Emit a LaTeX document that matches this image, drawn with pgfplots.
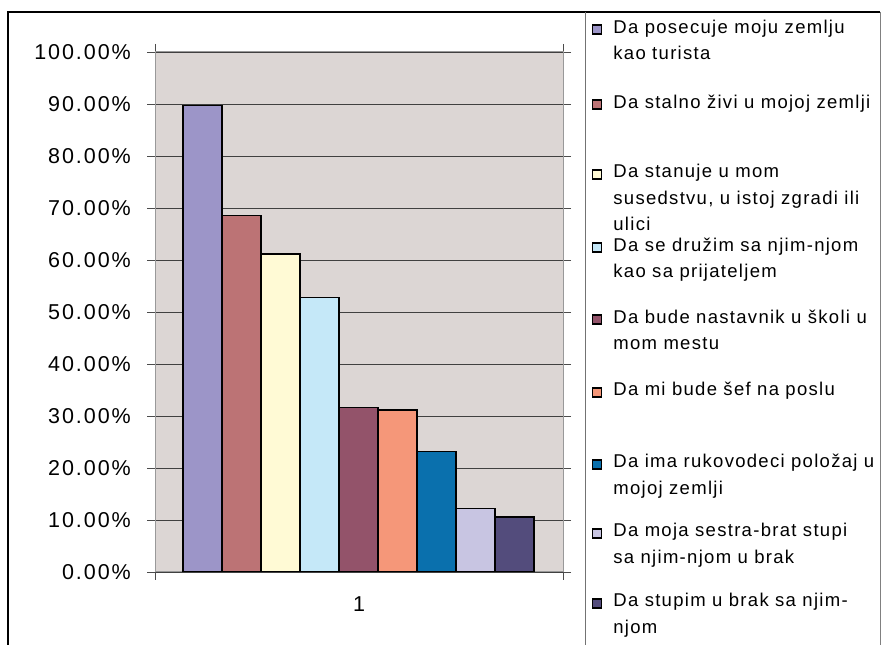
\documentclass[border=0pt]{standalone}
\usepackage{fontspec}
\setmainfont{Liberation Sans}
\newfontfamily\tickfont{Liberation Sans}[LetterSpace=9]
\newfontfamily\legfont{Liberation Sans}[LetterSpace=7]
\usepackage{pgfplots}
\pgfplotsset{compat=1.18}
\definecolor{plotbg}{RGB}{220,214,212}
\definecolor{c1}{RGB}{156,149,200}
\definecolor{c2}{RGB}{188,115,117}
\definecolor{c3}{RGB}{255,250,213}
\definecolor{c4}{RGB}{197,232,248}
\definecolor{c5}{RGB}{147,83,106}
\definecolor{c6}{RGB}{245,151,121}
\definecolor{c7}{RGB}{10,112,173}
\definecolor{c8}{RGB}{200,197,226}
\definecolor{c9}{RGB}{83,76,124}
\newcommand{\entry}[2]{\parbox[t][#1][t]{280pt}{\legfont\fontsize{18.5}{26.5}\selectfont\rule{0pt}{15pt}#2}}
\pgfplotsset{
  mybar/.style={ybar, bar width=39, bar shift=0pt, fill=#1, draw=black, line width=1.5pt,
    legend image code/.code={\draw[fill=#1, draw=black, line width=1.4pt] (0pt,-1pt) rectangle (9pt,8pt);}},
}
\begin{document}
\begin{tikzpicture}
\useasboundingbox (0,0) rectangle (881pt,645pt);
\fill[white] (0,0) rectangle (881pt,645pt);
\draw[black, line width=1.3pt] (8pt,0) -- (8pt,633pt) -- (880pt,633pt);
\draw[black!50, line width=1pt] (880pt,633pt) -- (880pt,0);
\draw[black!55, line width=1pt] (585.5pt,633pt) -- (585.5pt,0);
\begin{axis}[
  at={(155pt,73pt)}, anchor=south west,
  scale only axis, width=408pt, height=520pt,
  xmin=0, xmax=408, ymin=0, ymax=100,
  axis background/.style={fill=plotbg},
  axis line style={draw=black!40, line width=1pt},
  ytick={0,10,...,100},
  yticklabels={0.00\%,10.00\%,20.00\%,30.00\%,40.00\%,50.00\%,60.00\%,70.00\%,80.00\%,90.00\%,100.00\%},
  xtick={0,408}, xticklabels={},
  tick align=outside, major tick length=8pt,
  tick style={draw=black!70, line width=0.8pt},
  ymajorgrids, major grid style={draw=black!75, line width=0.8pt},
  yticklabel style={font=\tickfont\fontsize{21.5}{25}\selectfont, inner sep=0pt, anchor=east, xshift=-16pt},
  xlabel={1},
  xlabel style={font=\tickfont\fontsize{21.5}{25}\selectfont, at={(axis description cs:0.5,0)}, anchor=north, yshift=-25pt, inner sep=0pt},
  legend cell align=left,
  legend style={at={(1,1)}, anchor=north west, xshift=29pt, yshift=34pt, draw=none, fill=none,
    inner sep=0pt, outer sep=0pt, row sep=0pt, column sep=0pt,
    nodes={inner sep=0pt, outer sep=0pt, text depth=},
    cells={anchor=base west},
    /tikz/every odd column/.append style={column sep=11pt}},
]
\addplot[mybar=c1] coordinates {(47.5,89.7)};
\addlegendentry{\entry{75pt}{Da posecuje moju zemlju\newline kao turista}}
\addplot[mybar=c2] coordinates {(86.5,68.6)};
\addlegendentry{\entry{70pt}{Da stalno živi u mojoj zemlji}}
\addplot[mybar=c3] coordinates {(125.5,61.2)};
\addlegendentry{\entry{73pt}{Da stanuje u mom\newline susedstvu, u istoj zgradi ili\newline ulici}}
\addplot[mybar=c4] coordinates {(164.5,52.8)};
\addlegendentry{\entry{72pt}{Da se družim sa njim-njom\newline kao sa prijateljem}}
\addplot[mybar=c5] coordinates {(203.5,31.6)};
\addlegendentry{\entry{73pt}{Da bude nastavnik u školi u\newline mom mestu}}
\addplot[mybar=c6] coordinates {(242.5,31.2)};
\addlegendentry{\entry{72pt}{Da mi bude šef na poslu}}
\addplot[mybar=c7] coordinates {(281.5,23.2)};
\addlegendentry{\entry{69pt}{Da ima rukovodeci položaj u\newline mojoj zemlji}}
\addplot[mybar=c8] coordinates {(320.5,12.2)};
\addlegendentry{\entry{70pt}{Da moja sestra-brat stupi\newline sa njim-njom u brak}}
\addplot[mybar=c9] coordinates {(359.5,10.6)};
\addlegendentry{\entry{50pt}{Da stupim u brak sa njim-\newline njom}}
\end{axis}
\end{tikzpicture}
\end{document}
